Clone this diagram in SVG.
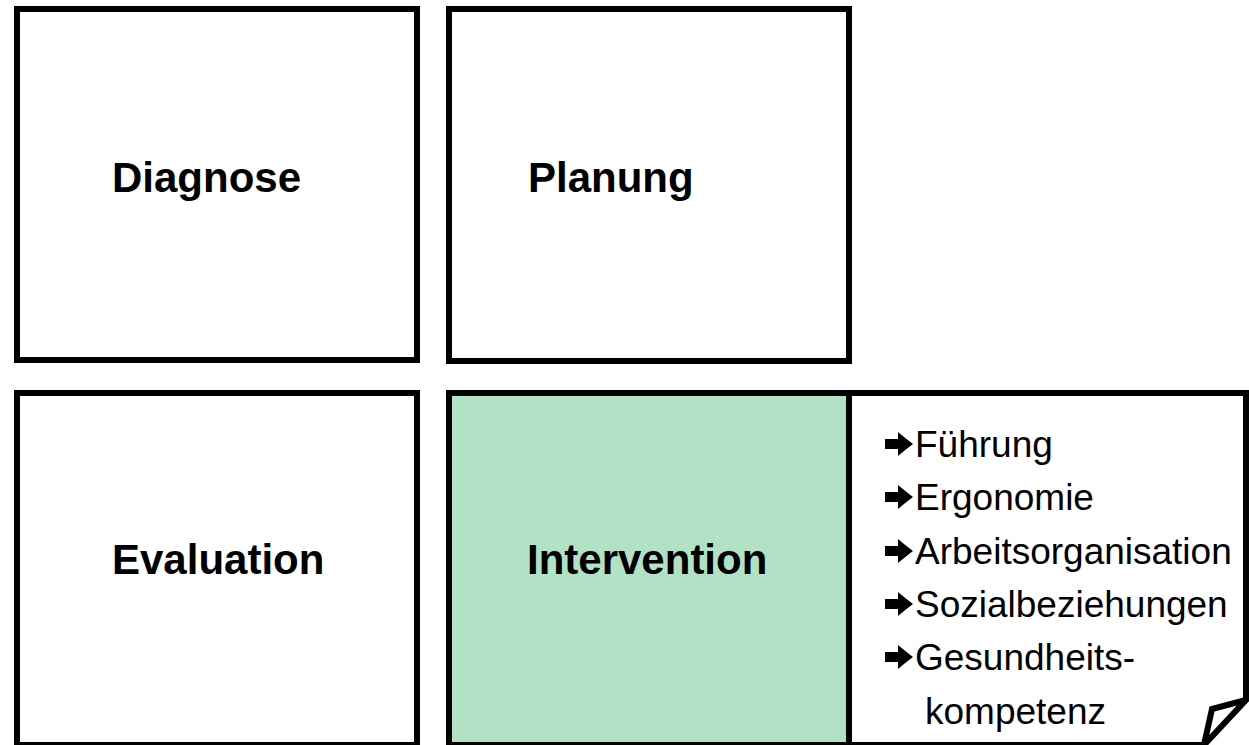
<svg xmlns="http://www.w3.org/2000/svg" width="1249" height="745" viewBox="0 0 1249 745">
  <style>
    .box { fill: #ffffff; stroke: #000000; stroke-width: 6; stroke-linejoin: miter; }
    .green { fill: #b2e2c6; }
    .line { fill: none; stroke: #000000; stroke-width: 6; stroke-linejoin: miter; }
    .title { font-family: "Liberation Sans", Arial, sans-serif; font-weight: bold; font-size: 42px; fill: #000000; }
    .item { font-family: "Liberation Sans", Arial, sans-serif; font-size: 37px; fill: #000000; }
  </style>
  <defs>
    <!-- bullet arrow used in the intervention list -->
    <path id="bullet" d="M0,-5 H13 V-12 Q20,-6 28,0 Q20,6 13,12 V5 H0 Z" fill="#000000"/>
  </defs>
  <rect width="1249" height="745" fill="#ffffff"/>

  <g id="diagnose">
    <rect class="box" x="17" y="9" width="400" height="351"/>
    <text class="title" x="112" y="192">Diagnose</text>
  </g>

  <g id="planung">
    <rect class="box" x="449" y="9" width="400" height="352"/>
    <text class="title" x="528" y="192">Planung</text>
  </g>

  <g id="evaluation">
    <rect class="box" x="17" y="393" width="400" height="352"/>
    <text class="title" x="112" y="574">Evaluation</text>
  </g>

  <g id="intervention">
    <!-- outer note shape with folded bottom-right corner -->
    <path class="box" d="M449,393 H1246 V700 L1204,745 H449 Z"/>
    <rect class="green" x="452" y="396" width="394" height="346"/>
    <line class="line" x1="849" y1="393" x2="849" y2="745"/>
    <polyline class="line" points="1246,700 1212,709 1204,745"/>
    <text class="title" x="527" y="574">Intervention</text>
  </g>

  <g id="measures">
    <use href="#bullet" x="885" y="444"/>
    <text class="item" x="915" y="457">Führung</text>
    <use href="#bullet" x="885" y="497"/>
    <text class="item" x="915" y="510">Ergonomie</text>
    <use href="#bullet" x="885" y="551"/>
    <text class="item" x="915" y="564">Arbeitsorganisation</text>
    <use href="#bullet" x="885" y="604"/>
    <text class="item" x="915" y="617">Sozialbeziehungen</text>
    <use href="#bullet" x="885" y="657"/>
    <text class="item" x="915" y="670">Gesundheits-</text>
    <text class="item" x="925" y="724">kompetenz</text>
  </g>
</svg>
